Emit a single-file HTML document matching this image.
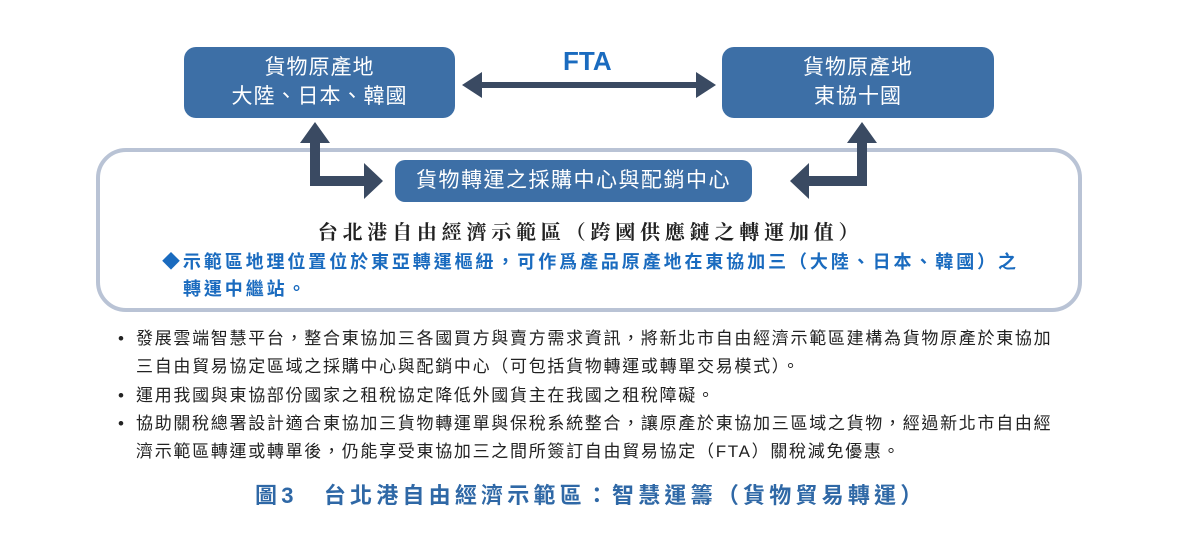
<!DOCTYPE html>
<html><head><meta charset="utf-8"><style>
body{margin:0;width:1181px;height:542px;background:#fff;position:relative;overflow:hidden;font-family:"Liberation Sans","Noto Sans CJK TC",sans-serif}
.box{position:absolute;background:#3d6fa6;color:#fff;border-radius:12px;text-align:center;font-size:21px;line-height:29px;letter-spacing:1px}
.t{position:absolute;white-space:nowrap}
.b{position:relative;padding-left:18px}
.b:before{content:"•";position:absolute;left:0;letter-spacing:0}
</style></head><body>
<div class="box" style="left:184px;top:47px;width:271px;height:71px;padding-top:6px;box-sizing:border-box">貨物原產地<br>大陸、日本、韓國</div>
<div class="box" style="left:722px;top:47px;width:272px;height:71px;padding-top:6px;box-sizing:border-box">貨物原產地<br>東協十國</div>
<div class="t" style="left:563px;top:46px;font-size:26px;font-weight:bold;color:#1a6bbf">FTA</div>
<div style="position:absolute;left:96px;top:148px;width:986px;height:164px;box-sizing:border-box;border:4px solid #b9c3d5;border-radius:30px"></div>
<div class="box" style="left:395px;top:160px;width:357px;height:42px;line-height:42px;border-radius:10px;letter-spacing:1.5px">貨物轉運之採購中心與配銷中心</div>
<svg width="1181" height="542" style="position:absolute;left:0;top:0">
<g fill="#3a4a62">
<polygon points="462,85 482,72 482,82 696,82 696,72 716,85 696,98 696,88 482,88 482,98"/>
<polygon points="315,122 330,143 320,143 320,176 364,176 364,163 383,181 364,199 364,186 310,186 310,143 300,143"/>
<polygon points="862,122 877,143 867,143 867,186 809,186 809,199 790,181 809,163 809,176 857,176 857,143 847,143"/>
</g></svg>
<div class="t" style="left:0;width:1181px;text-align:center;top:216px;font-size:20px;font-weight:bold;font-family:'Liberation Serif','Noto Serif CJK SC',serif;letter-spacing:4.8px;color:#222">台北港自由經濟示範區（跨國供應鏈之轉運加值）</div>
<div class="t" style="left:162px;top:248px;font-size:18px;font-weight:bold;color:#1a6bbf;letter-spacing:2.9px">◆示範區地理位置位於東亞轉運樞紐，可作爲產品原產地在東協加三（大陸、日本、韓國）之</div>
<div class="t" style="left:183px;top:275px;font-size:18px;font-weight:bold;color:#1a6bbf;letter-spacing:2.9px">轉運中繼站。</div>
<div style="position:absolute;left:118px;top:325px;font-size:17px;color:#222;line-height:28.3px;letter-spacing:1.7px;white-space:nowrap">
<div class="b">發展雲端智慧平台，整合東協加三各國買方與賣方需求資訊，將新北市自由經濟示範區建構為貨物原產於東協加</div>
<div style="padding-left:18px">三自由貿易協定區域之採購中心與配銷中心（可包括貨物轉運或轉單交易模式）。</div>
<div class="b">運用我國與東協部份國家之租稅協定降低外國貨主在我國之租稅障礙。</div>
<div class="b">協助關稅總署設計適合東協加三貨物轉運單與保稅系統整合，讓原產於東協加三區域之貨物，經過新北市自由經</div>
<div style="padding-left:18px">濟示範區轉運或轉單後，仍能享受東協加三之間所簽訂自由貿易協定（FTA）關稅減免優惠。</div>
</div>
<div class="t" style="left:255px;top:478px;font-size:22px;font-weight:bold;color:#2f68a6;letter-spacing:4.2px">圖3　台北港自由經濟示範區：智慧運籌（貨物貿易轉運）</div>
</body></html>
